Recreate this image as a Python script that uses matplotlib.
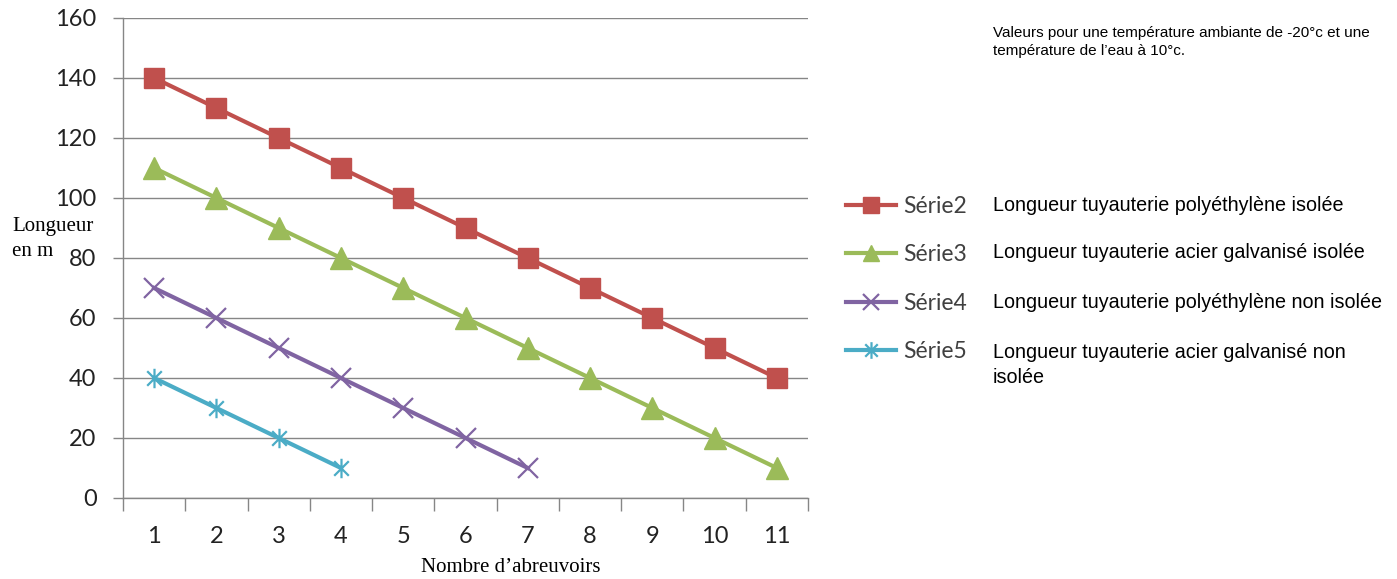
import matplotlib
matplotlib.use('Agg')
import matplotlib.pyplot as plt
from matplotlib.path import Path

# Données
x2 = [1, 2, 3, 4, 5, 6, 7, 8, 9, 10, 11]
serie2 = [140, 130, 120, 110, 100, 90, 80, 70, 60, 50, 40]
x3 = [1, 2, 3, 4, 5, 6, 7, 8, 9, 10, 11]
serie3 = [110, 100, 90, 80, 70, 60, 50, 40, 30, 20, 10]
x4 = [1, 2, 3, 4, 5, 6, 7]
serie4 = [70, 60, 50, 40, 30, 20, 10]
x5 = [1, 2, 3, 4]
serie5 = [40, 30, 20, 10]

noms = ['Série2', 'Série3', 'Série4', 'Série5']
descriptions = ['Longueur tuyauterie polyéthylène isolée',
                'Longueur tuyauterie acier galvanisé isolée',
                'Longueur tuyauterie polyéthylène non isolée',
                'Longueur tuyauterie acier galvanisé non\nisolée']
categories = ['1', '2', '3', '4', '5', '6', '7', '8', '9', '10', '11']
yticks = [0, 20, 40, 60, 80, 100, 120, 140, 160]

rouge = '#C0504D'
vert = '#9BBB59'
violet = '#8064A2'
bleu = '#4BACC6'
gris = '#868686'

SANS = ['Liberation Sans', 'DejaVu Sans']
SERIF = ['Liberation Serif', 'DejaVu Serif']
CAL = ['Lato', 'DejaVu Sans']

# marqueur étoile façon Excel (croix + trait vertical)
etoile = Path([(0, -1), (0, 1), (-0.75, -0.75), (0.75, 0.75), (-0.75, 0.75), (0.75, -0.75)],
              [Path.MOVETO, Path.LINETO, Path.MOVETO, Path.LINETO, Path.MOVETO, Path.LINETO])

fig = plt.figure(figsize=(13.97, 5.79), dpi=100)
ax = fig.add_axes([123 / 1397, 1 - 498 / 579, (808 - 123) / 1397, (498 - 18) / 579])

l2, = ax.plot(x2, serie2, color=rouge, lw=3, marker='s', ms=14, mec=rouge, mfc=rouge, zorder=5)
l3, = ax.plot(x3, serie3, color=vert, lw=3, marker='^', ms=15.5, mec=vert, mfc=vert, zorder=5)
l4, = ax.plot(x4, serie4, color=violet, lw=3, marker='x', ms=14, mew=1.6, mec=violet, zorder=5)
l5, = ax.plot(x5, serie5, color=bleu, lw=3, marker=etoile, ms=14, mew=1.6, mec=bleu, zorder=5)

ax.set_xlim(0.5, 11.5)
ax.set_ylim(0, 160)
ax.set_yticks(yticks)
ax.set_yticklabels([str(v) for v in yticks], fontfamily=CAL, fontsize=17, color='#222222')
ax.yaxis.grid(True, color=gris, lw=1)
ax.set_axisbelow(True)

# graduations entre les catégories, étiquettes au centre
ax.set_xticks([i + 0.5 for i in range(0, 12)])
ax.set_xticklabels([])
ax.set_xticks(range(1, 12), minor=True)
ax.set_xticklabels(categories, minor=True, fontfamily=CAL, fontsize=17, color='#222222')
ax.tick_params(axis='x', which='major', length=9, color=gris, width=1)
ax.tick_params(axis='x', which='minor', length=0, pad=20)
ax.tick_params(axis='y', length=7, color=gris, width=1, pad=12)

for s in ['top', 'right']:
    ax.spines[s].set_visible(False)
for s in ['left', 'bottom']:
    ax.spines[s].set_color(gris)
    ax.spines[s].set_linewidth(1)

fig.text(12 / 1397, 1 - 226 / 579, 'Longueur', fontfamily=SERIF, fontsize=15,
         va='center', ha='left')
fig.text(12 / 1397, 1 - 251 / 579, 'en m', fontfamily=SERIF, fontsize=15,
         va='center', ha='left')
fig.text(511 / 1397, 1 - 567 / 579, 'Nombre d\u2019abreuvoirs', fontfamily=SERIF, fontsize=15,
         va='center', ha='center')

fig.text(993 / 1397, 1 - 42 / 579,
         'Valeurs pour une température ambiante de -20°c et une\ntempérature de l\u2019eau à 10°c.',
         fontfamily=SANS, fontsize=11, va='center', ha='left', linespacing=1.45)

# légende
leg = fig.legend([l2, l3, l4, l5], noms, loc='upper left',
                 bbox_to_anchor=(846 / 1397, 1 - 196 / 579), frameon=False,
                 prop={'family': CAL, 'size': 16.5}, labelcolor='#404040',
                 handlelength=2.2, handletextpad=0.3, labelspacing=1.2,
                 borderpad=0, borderaxespad=0)
for h in leg.legend_handles:
    h.set_markersize(12)

rangs = [203, 250, 300, 350]
for desc, yy in zip(descriptions, rangs):
    fig.text(993 / 1397, 1 - (yy - 7) / 579, desc, fontfamily=SANS, fontsize=14.2,
             va='top', ha='left', linespacing=1.4)

fig.savefig('out.png', dpi=100)
